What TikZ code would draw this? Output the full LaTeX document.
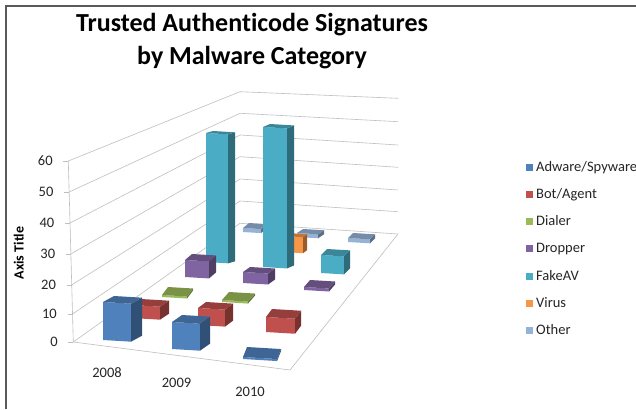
\documentclass[tikz,border=0pt]{standalone}
\usepackage{fontspec}
\setmainfont{Carlito}[Ligatures=NoCommon]
\definecolor{adw}{HTML}{4F81BD}
\definecolor{bot}{HTML}{C0504D}
\definecolor{dia}{HTML}{9BBB59}
\definecolor{dro}{HTML}{8064A2}
\definecolor{fak}{HTML}{4BACC6}
\definecolor{vir}{HTML}{F79646}
\definecolor{oth}{HTML}{95B3D7}
\definecolor{gridc}{HTML}{BFBFBF}
\definecolor{framec}{HTML}{595959}
\definecolor{txt}{HTML}{262626}
\newcommand\chartbar[7]{%
  \pgfmathsetmacro\barsl{0.06*(#2-#1)}%
  \fill[#7] (#1,#3) -- (#2,#3+\barsl) -- (#2,#4+\barsl) -- (#1,#4) -- cycle;
  \fill[#7!62!black] (#2,#3+\barsl) -- (#2+#5,#3+\barsl+#6) -- (#2+#5,#4+\barsl+#6) -- (#2,#4+\barsl) -- cycle;
  \fill[#7!78!black] (#1,#3) -- (#2,#3+\barsl) -- (#2+#5,#3+\barsl+#6) -- (#1+#5,#3+#6) -- cycle;
}
\tikzset{
  gridline/.style={draw=gridc, line width=0.6pt},
  ticklbl/.style={anchor=base east, inner sep=0pt, text=txt, font=\fontsize{14.5}{16}\selectfont},
  yearlbl/.style={anchor=base, inner sep=0pt, text=txt, font=\fontsize{14.5}{16}\selectfont},
  legtext/.style={anchor=base west, inner sep=0pt, text=txt, font=\fontsize{14.5}{16}\selectfont},
  legsq/.style={minimum size=7pt, inner sep=0pt},
  titletext/.style={anchor=base, inner sep=0pt, text=black, font=\fontsize{26}{30}\selectfont\bfseries}
}
\begin{document}
\begin{tikzpicture}[x=1pt,y=-1pt]
\useasboundingbox (0,0) rectangle (636,409);
\fill[white] (0,0) rectangle (636,409);
% frame
\draw[framec, line width=1.5pt] (6,409) -- (6,6) -- (636,6);
% title
\node[titletext] (t1) at (252,31.7) {Trusted Authenticode Signatures};
\node[titletext] (t2) at (252,65) {by Malware Category};
% walls grid
\foreach \yf/\yb/\yr/\xa/\lab in {342/223.3/234/73.3/0, 314/201/211.7/72.5/10, 285/179/190/71.6/20, 254/156.7/167.3/70.8/30, 223/135/145/70/40, 192/113.3/121.7/69.1/50, 161/91.7/98.3/68.3/60}{
  \draw[gridline] (\xa,\yf) -- (240,\yb) -- (398,\yr);
  \draw[gridline] (\xa-5,\yf) -- (\xa,\yf);
  \node[ticklbl] at (\xa-15.5,\yf+4.6) {\lab};
}
\draw[gridline] (73.3,342) -- (68.3,161);
% floor
\draw[gridline] (73.3,342) -- (290,370) -- (398,234);
% bars, back to front
\chartbar{243}{261}{228}{232}{6}{-5}{oth}
\chartbar{297}{318}{233}{237}{6}{-4}{oth}
\chartbar{348}{370}{238}{242}{5}{-5}{oth}
\chartbar{283}{303}{236}{252}{4}{-3}{vir}
\chartbar{206}{228}{133}{262}{7}{-2}{fak}
\chartbar{263}{287}{127}{267}{7}{-3}{fak}
\chartbar{321}{344}{255}{273}{6}{-6}{fak}
\chartbar{185}{209}{260}{277}{7}{-6}{dro}
\chartbar{243}{268}{272}{283}{7}{-5}{dro}
\chartbar{304}{329}{287}{290}{6}{-7}{dro}
\chartbar{162}{187}{295}{297}{6}{-8}{dia}
\chartbar{222}{248}{300}{302}{7}{-8}{dia}
\chartbar{132}{160}{305}{318}{9}{-6}{bot}
\chartbar{198}{225}{308}{325}{8}{-6}{bot}
\chartbar{266}{295}{317}{332}{6}{-8}{bot}
\chartbar{103}{131}{302}{340}{11}{-6}{adw}
\chartbar{172}{200}{322}{349}{10}{-7}{adw}
\chartbar{243}{277}{357}{359}{4}{-10}{adw}
% axis title
\node[anchor=base, inner sep=0pt, rotate=90, text=black, font=\fontsize{14}{16}\selectfont\bfseries] (at) at (23.5,253) {Axis Title};
% year labels
\node[yearlbl] (y1) at (107,377.6) {2008};
\node[yearlbl] (y2) at (176.5,387.6) {2009};
\node[yearlbl] (y3) at (250,396.6) {2010};
% legend
\foreach \c/\yy/\name [count=\i] in {adw/167/Adware\slash Spyware, bot/194/Bot\slash Agent, dia/221/Dialer, dro/248/Dropper, fak/276/FakeAV, vir/303/Virus, oth/330/Other}{
  \node[legsq, fill=\c] (sq\i) at (529.5,\yy) {};
  \node[legtext] (lg\i) at (536,\yy+4.6) {\name};
}
\end{tikzpicture}
\end{document}
